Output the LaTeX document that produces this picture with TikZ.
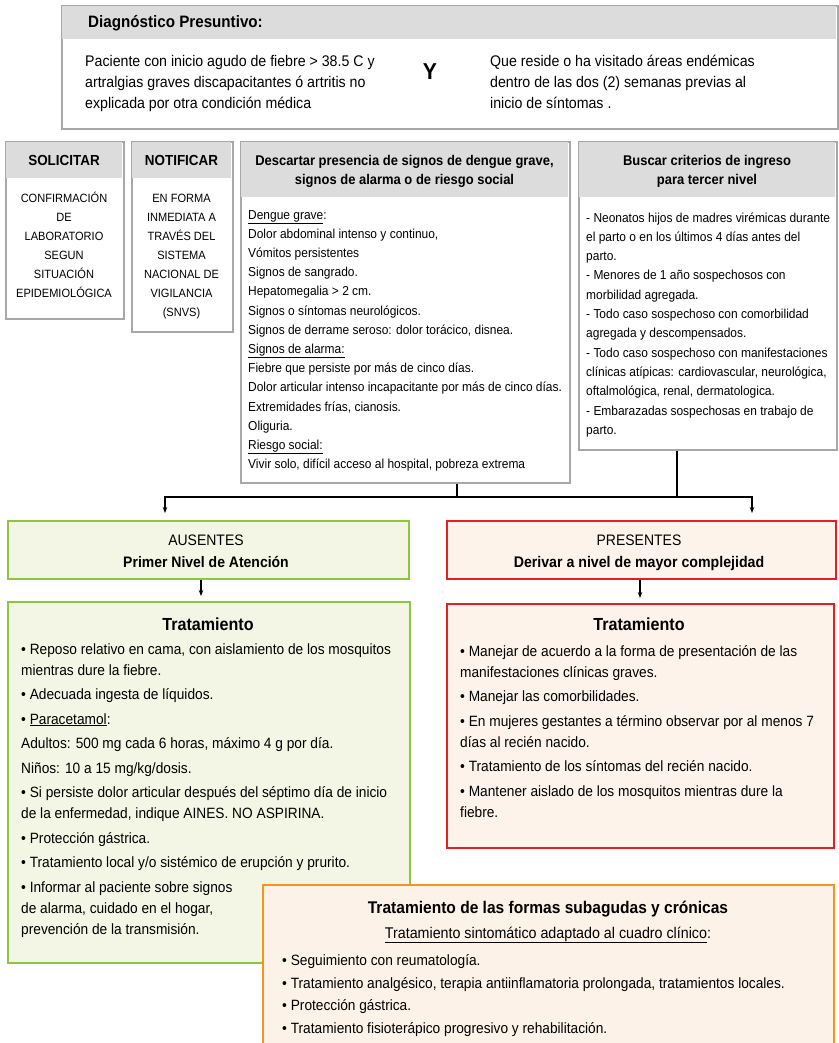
\documentclass[tikz,border=0pt]{standalone}
\usepackage{fontspec}
\setmainfont{Liberation Sans}[FakeStretch=0.92]
\usetikzlibrary{arrows.meta, positioning}

\definecolor{headgray}{HTML}{DCDCDC}
\definecolor{boxgray}{HTML}{A8A8A8}
\definecolor{okgreen}{HTML}{8DC63F}
\definecolor{okfill}{HTML}{F3F6E4}
\definecolor{badred}{HTML}{E31E24}
\definecolor{badfill}{HTML}{FDF3EA}
\definecolor{chrorange}{HTML}{F7941D}
\definecolor{chrfill}{HTML}{FDF2E8}

\tikzset{
  box/.style={draw=boxgray, line width=1.6pt, fill=white, anchor=north west, inner sep=0pt},
  head/.style={fill=headgray, anchor=north west, inner sep=0pt},
  headtxt/.style={anchor=base, align=center, inner sep=0pt, font=\bfseries\fontsize{14.1}{19}\selectfont},
  body/.style={anchor=base west, align=left, inner sep=0pt, font=\fontsize{13}{19.2}\selectfont},
  capsbody/.style={anchor=base, align=center, inner sep=0pt, font=\fontsize{12}{19}\selectfont},
  treat/.style={anchor=base west, align=left, inner sep=0pt, font=\fontsize{14.9}{21}\selectfont},
  link/.style={line width=1.5pt, black},
}

\begin{document}
\begin{tikzpicture}[x=1pt, y=-1pt, >={Stealth[length=6pt,width=4.5pt]}]
\useasboundingbox (0,0) rectangle (838,1043);

% Diagnostico presuntivo (multi-line texts sit on their last baseline)
\node[box, minimum width=776, minimum height=123] (diag) at (61,5) {};
\node[head, minimum width=774.4, minimum height=33] (diaghead) at (61.8,5.8) {};
\node[headtxt, anchor=base west, font=\bfseries\fontsize{16.5}{19}\selectfont] (diagtitle) at (88,28) {Diagnóstico Presuntivo:};
\node[body, font=\fontsize{15.4}{21}\selectfont] (diagleft) at (85,109)
  {Paciente con inicio agudo de fiebre > 38.5 C y\\
   artralgias graves discapacitantes ó artritis no\\
   explicada por otra condición médica};
\node[headtxt, font=\bfseries\fontsize{23}{23}\selectfont] (diagand) at (430,80) {Y};
\node[body, font=\fontsize{15.4}{21}\selectfont] (diagright) at (490,109)
  {Que reside o ha visitado áreas endémicas\\
   dentro de las dos (2) semanas previas al\\
   inicio de síntomas .};

% Solicitar / Notificar
\node[box, minimum width=118, minimum height=177] (solicitar) at (5,141) {};
\node[head, minimum width=116.4, minimum height=36] (solhead) at (5.8,141.8) {};
\node[headtxt, font=\bfseries\fontsize{14.6}{19}\selectfont] (soltitle) at (64,166) {SOLICITAR};
\node[capsbody] (soltxt) at (64,297)
  {CONFIRMACIÓN\\ DE\\ LABORATORIO\\ SEGUN\\ SITUACIÓN\\ EPIDEMIOLÓGICA};

\node[box, minimum width=101, minimum height=190] (notificar) at (131,141) {};
\node[head, minimum width=99.4, minimum height=36] (nothead) at (131.8,141.8) {};
\node[headtxt, font=\bfseries\fontsize{14.6}{19}\selectfont] (nottitle) at (181.5,166) {NOTIFICAR};
\node[capsbody] (nottxt) at (181.5,316)
  {EN FORMA\\ INMEDIATA A\\ TRAVÉS DEL\\ SISTEMA\\ NACIONAL DE\\ VIGILANCIA\\ (SNVS)};

% Descartar signos
\node[box, minimum width=329, minimum height=341] (descartar) at (240,141) {};
\node[head, minimum width=327.4, minimum height=55] (deshead) at (240.8,141.8) {};
\node[headtxt] (destitle) at (404.5,185)
  {Descartar presencia de signos de dengue grave,\\ signos de alarma o de riesgo social};
\node[body] (destxt) at (248,468.6)
  {\underline{Dengue grave}:\\
   Dolor abdominal intenso y continuo,\\
   Vómitos persistentes\\
   Signos de sangrado.\\
   Hepatomegalia > 2 cm.\\
   Signos o síntomas neurológicos.\\
   Signos de derrame seroso: dolor torácico, disnea.\\
   \underline{Signos de alarma:}\\
   Fiebre que persiste por más de cinco días.\\
   Dolor articular intenso incapacitante por más de cinco días.\\
   Extremidades frías, cianosis.\\
   Oliguria.\\
   \underline{Riesgo social:}\\
   Vivir solo, difícil acceso al hospital, pobreza extrema};

% Criterios de ingreso
\node[box, minimum width=258, minimum height=308] (buscar) at (578,141) {};
\node[head, minimum width=256.4, minimum height=55] (bushead) at (578.8,141.8) {};
\node[headtxt] (bustitle) at (707,185) {Buscar criterios de ingreso\\ para tercer nivel};
\node[body, font=\fontsize{13}{19.3}\selectfont] (bustxt) at (586,434.3)
  {- Neonatos hijos de madres virémicas durante\\
   el parto o en los últimos 4 días antes del\\
   parto.\\
   - Menores de 1 año sospechosos con\\
   morbilidad agregada.\\
   - Todo caso sospechoso con comorbilidad\\
   agregada y descompensados.\\
   - Todo caso sospechoso con manifestaciones\\
   clínicas atípicas: cardiovascular, neurológica,\\
   oftalmológica, renal, dermatologica.\\
   - Embarazadas sospechosas en trabajo de\\
   parto.};

% Ausentes / Presentes
\node[box, draw=okgreen, fill=okfill, minimum width=401, minimum height=58] (ausentes) at (7,520) {};
\node[headtxt, font=\fontsize{15.2}{19}\selectfont] (aus1) at (206,545) {AUSENTES};
\node[headtxt, font=\bfseries\fontsize{15.2}{19}\selectfont] (aus2) at (206,567) {Primer Nivel de Atención};

\node[box, draw=badred, fill=badfill, minimum width=389, minimum height=58] (presentes) at (446,520) {};
\node[headtxt, font=\fontsize{15.2}{19}\selectfont] (pre1) at (639,545) {PRESENTES};
\node[headtxt, font=\bfseries\fontsize{15.4}{19}\selectfont] (pre2) at (639,567) {Derivar a nivel de mayor complejidad};

% Connections
\coordinate (jd) at (457,497);
\coordinate (jb) at (677,497);
\coordinate (ua) at (165,513);
\coordinate (pa) at (752,513);
\coordinate (ax) at (201,0);
\coordinate (bx) at (640,0);
\draw[link] (descartar.south -| jd) -- (jd);
\draw[link] (buscar.south -| jb) -- (jb);
\draw[link] (jd) -- (jb);
\draw[link, ->] (jd) -| (ua);
\draw[link, ->] (jb) -| (pa);

% Tratamiento (ausentes)
\node[box, draw=okgreen, fill=okfill, minimum width=402, minimum height=361] (tratok) at (7,601) {};
\node[headtxt, font=\bfseries\fontsize{17.5}{19}\selectfont] (tratoktitle) at (208,630) {Tratamiento};
\node[treat] (tratoktxt) at (21,934)
  {\textbullet{} Reposo relativo en cama, con aislamiento de los mosquitos\\
   mientras dure la fiebre.\\[3.5pt]
   \textbullet{} Adecuada ingesta de líquidos.\\[3.5pt]
   \textbullet{} \underline{Paracetamol}:\\[3.5pt]
   Adultos: 500 mg cada 6 horas, máximo 4 g por día.\\[3.5pt]
   Niños: 10 a 15 mg/kg/dosis.\\[3.5pt]
   \textbullet{} Si persiste dolor articular después del séptimo día de inicio\\
   de la enfermedad, indique AINES. NO ASPIRINA.\\[3.5pt]
   \textbullet{} Protección gástrica.\\[3.5pt]
   \textbullet{} Tratamiento local y/o sistémico de erupción y prurito.\\[3.5pt]
   \textbullet{} Informar al paciente sobre signos\\
   de alarma, cuidado en el hogar,\\
   prevención de la transmisión.};

% Tratamiento (presentes)
\node[box, draw=badred, fill=badfill, minimum width=387, minimum height=244] (tratbad) at (446,603) {};
\node[headtxt, font=\bfseries\fontsize{17.5}{19}\selectfont] (tratbadtitle) at (639,630) {Tratamiento};
\node[treat] (tratbadtxt) at (460,817)
  {\textbullet{} Manejar de acuerdo a la forma de presentación de las\\
   manifestaciones clínicas graves.\\[3.5pt]
   \textbullet{} Manejar las comorbilidades.\\[3.5pt]
   \textbullet{} En mujeres gestantes a término observar por al menos 7\\
   días al recién nacido.\\[3.5pt]
   \textbullet{} Tratamiento de los síntomas del recién nacido.\\[3.5pt]
   \textbullet{} Mantener aislado de los mosquitos mientras dure la\\
   fiebre.};

\draw[link, ->] (ausentes.south -| ax) -- ([yshift=5pt]tratok.north -| ax);
\draw[link, ->] (presentes.south -| bx) -- ([yshift=5pt]tratbad.north -| bx);

% Formas subagudas y cronicas
\node[box, draw=chrorange, fill=chrfill, minimum width=571, minimum height=175] (cronico) at (262,884) {};
\node[headtxt, font=\bfseries\fontsize{16.9}{19}\selectfont] (crontitle) at (548,913) {Tratamiento de las formas subagudas y crónicas};
\node[headtxt, font=\fontsize{15.5}{19}\selectfont] (cronsub) at (548,938) {\underline{Tratamiento sintomático adaptado al cuadro clínico}:};
\node[treat, font=\fontsize{14.9}{22.4}\selectfont] (crontxt) at (282,1033)
  {\textbullet{} Seguimiento con reumatología.\\
   \textbullet{} Tratamiento analgésico, terapia antiinflamatoria prolongada, tratamientos locales.\\
   \textbullet{} Protección gástrica.\\
   \textbullet{} Tratamiento fisioterápico progresivo y rehabilitación.};
\end{tikzpicture}
\end{document}
